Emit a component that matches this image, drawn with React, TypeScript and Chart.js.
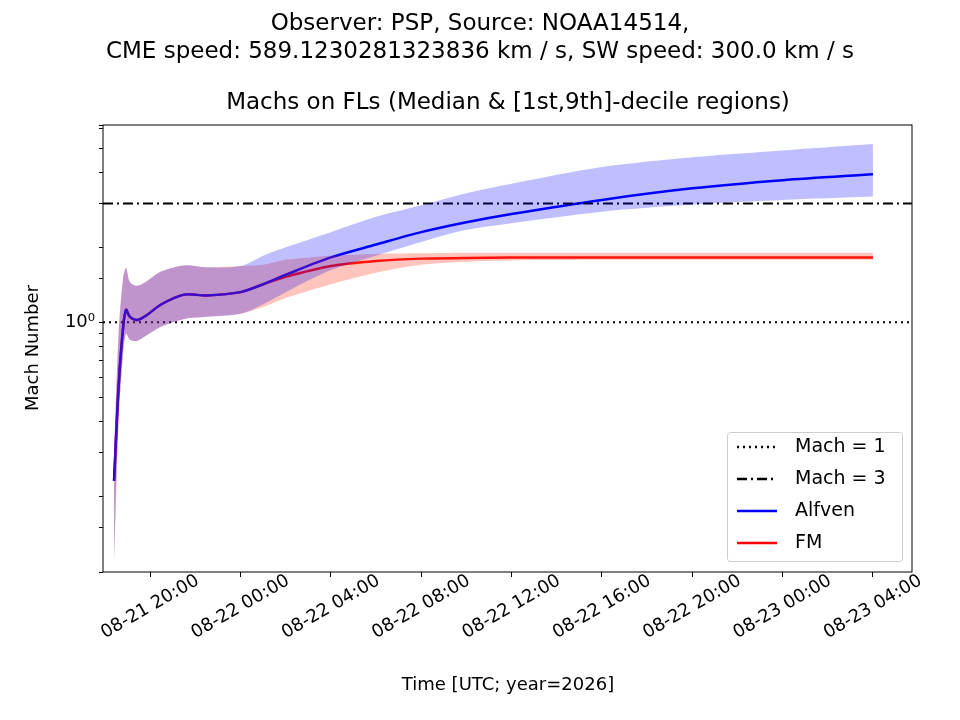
import React, { useEffect, useRef } from "react";
import { Chart, registerables } from "chart.js";
Chart.register(...registerables);

// hours since 2026-08-21 00:00 UTC
const hours = [18.4, 18.6, 18.8, 18.93, 19.1, 19.4, 19.8, 20.5, 21.5, 22.5, 24, 25, 26, 28, 30, 32, 34, 36, 40, 44, 48, 52];
const alfvenMedian = [0.23, 0.55, 0.95, 1.12, 1.05, 1.02, 1.06, 1.18, 1.29, 1.28, 1.32, 1.42, 1.55, 1.82, 2.05, 2.3, 2.52, 2.72, 3.1, 3.45, 3.72, 3.93];
const alfvenUpper = [0.3, 0.9, 1.5, 1.65, 1.45, 1.4, 1.45, 1.6, 1.69, 1.66, 1.68, 1.85, 2.0, 2.3, 2.65, 2.95, 3.3, 3.6, 4.2, 4.6, 4.9, 5.2];
const alfvenLower = [0.11, 0.4, 0.75, 0.9, 0.85, 0.84, 0.88, 0.96, 1.03, 1.05, 1.08, 1.18, 1.32, 1.62, 1.85, 2.1, 2.35, 2.5, 2.78, 2.97, 3.1, 3.2];
const fmMedian = [0.23, 0.55, 0.95, 1.12, 1.05, 1.02, 1.06, 1.18, 1.29, 1.28, 1.32, 1.42, 1.52, 1.68, 1.76, 1.8, 1.81, 1.82, 1.82, 1.82, 1.82, 1.82];
const fmUpper = [0.3, 0.9, 1.5, 1.65, 1.45, 1.4, 1.45, 1.6, 1.69, 1.66, 1.68, 1.7, 1.78, 1.85, 1.88, 1.89, 1.9, 1.9, 1.9, 1.9, 1.9, 1.9];
const fmLower = [0.11, 0.4, 0.75, 0.9, 0.85, 0.84, 0.88, 0.96, 1.03, 1.05, 1.08, 1.15, 1.25, 1.42, 1.58, 1.7, 1.75, 1.77, 1.78, 1.78, 1.78, 1.78];
const tickHours = [20, 24, 28, 32, 36, 40, 44, 48, 52];
const tickLabels = ["08-21 20:00", "08-22 00:00", "08-22 04:00", "08-22 08:00", "08-22 12:00", "08-22 16:00", "08-22 20:00", "08-23 00:00", "08-23 04:00"];
const xMin = 17.91, xMax = 53.73;
const titleLines = ["Observer: PSP, Source: NOAA14514,", "CME speed: 589.1230281323836 km / s, SW speed: 300.0 km / s"];
const subTitle = "Machs on FLs (Median & [1st,9th]-decile regions)";
const legendItems = [
  { label: "Mach = 1", color: "#000", dash: [2, 4] },
  { label: "Mach = 3", color: "#000", dash: [10, 4, 2, 4] },
  { label: "Alfven", color: "#0000ff", dash: [] as number[] },
  { label: "FM", color: "#ff0000", dash: [] as number[] },
];

const pts = (ys: number[]) => hours.map((h, i) => ({ x: h, y: ys[i] }));
const FONT = "'DejaVu Sans', sans-serif";

export default function App() {
  const ref = useRef<HTMLCanvasElement>(null);
  useEffect(() => {
    const textPlugin = {
      id: "texts",
      afterDraw(chart: any) {
        const ctx = chart.ctx;
        ctx.save();
        ctx.fillStyle = "#000";
        ctx.textAlign = "center";
        ctx.textBaseline = "middle";
        ctx.font = `23px ${FONT}`;
        ctx.fillText(titleLines[0], 480, 24);
        ctx.fillText(titleLines[1], 480, 52);
        ctx.fillText(subTitle, 508, 103);
        ctx.font = `18px ${FONT}`;
        ctx.fillText("Time [UTC; year=2026]", 508, 685);
        // x tick labels, rotated and centred under ticks
        const xs = chart.scales.x;
        tickHours.forEach((h, i) => {
          ctx.save();
          ctx.translate(xs.getPixelForValue(h), 607);
          ctx.rotate(-Math.PI / 6);
          ctx.fillText(tickLabels[i], 0, 0);
          ctx.restore();
        });
        ctx.save();
        ctx.translate(33, 348);
        ctx.rotate(-Math.PI / 2);
        ctx.fillText("Mach Number", 0, 0);
        ctx.restore();
        // legend
        ctx.fillStyle = "rgba(255,255,255,0.8)";
        ctx.strokeStyle = "#ccc";
        ctx.lineWidth = 1;
        ctx.beginPath();
        ctx.roundRect(727.5, 432.5, 175, 129, 3);
        ctx.fill();
        ctx.stroke();
        legendItems.forEach((it, i) => {
          const y = 447 + i * 32;
          ctx.strokeStyle = it.color;
          ctx.lineWidth = 2.5;
          ctx.setLineDash(it.dash);
          ctx.beginPath();
          ctx.moveTo(737, y);
          ctx.lineTo(777, y);
          ctx.stroke();
          ctx.setLineDash([]);
          ctx.fillStyle = "#000";
          ctx.textAlign = "left";
          ctx.font = `19px ${FONT}`;
          ctx.fillText(it.label, 795, y);
        });
        // frame
        const a = chart.chartArea;
        ctx.strokeStyle = "#000";
        ctx.lineWidth = 1;
        ctx.strokeRect(a.left, a.top, a.right - a.left, a.bottom - a.top);
        ctx.restore();
      },
    };
    const line = (data: any, color: string, extra: any = {}) => ({
      data, borderColor: color, borderWidth: 2.5, pointRadius: 0, fill: false, tension: 0.3, ...extra,
    });
    const chart = new Chart(ref.current!, {
      type: "line",
      data: {
        datasets: [
          line(pts(alfvenUpper), "transparent", { borderWidth: 0, fill: "+1", backgroundColor: "rgba(0,0,255,0.25)" }),
          line(pts(alfvenLower), "transparent", { borderWidth: 0 }),
          line(pts(fmUpper), "transparent", { borderWidth: 0, fill: "+1", backgroundColor: "rgba(255,60,30,0.3)" }),
          line(pts(fmLower), "transparent", { borderWidth: 0 }),
          line([{ x: xMin, y: 1 }, { x: xMax, y: 1 }], "#000", { borderWidth: 2, borderDash: [2, 4], tension: 0 }),
          line([{ x: xMin, y: 3 }, { x: xMax, y: 3 }], "#000", { borderWidth: 2, borderDash: [10, 4, 2, 4], tension: 0 }),
          line(pts(alfvenMedian), "#0000ff"),
          line(pts(fmMedian), "#ff0000"),
        ],
      },
      options: {
        animation: false,
        responsive: false,
        layout: { padding: { top: 125, right: 48, left: 0, bottom: 0 } },
        plugins: { legend: { display: false }, tooltip: { enabled: false } },
        scales: {
          x: {
            type: "linear", min: xMin, max: xMax,
            afterBuildTicks: (s: any) => { s.ticks = tickHours.map((v) => ({ value: v })); },
            afterFit: (s: any) => { s.height = 148; },
            grid: { drawOnChartArea: false, tickLength: 5, color: "#000" },
            border: { display: false },
            ticks: { maxRotation: 0, minRotation: 0, callback: () => "" },
          },
          y: {
            type: "logarithmic", min: 0.099, max: 6.2,
            afterFit: (s: any) => { s.width = 103; },
            grid: { drawOnChartArea: false, tickLength: 4, color: "#000" },
            border: { display: false },
            ticks: {
              color: "#000", font: { family: FONT, size: 18 }, autoSkip: false, padding: 4,
              callback: (v: any) => (Math.abs(v - 1) < 1e-9 ? "10⁰" : ""),
            },
          },
        },
      },
      plugins: [textPlugin],
    } as any);
    return () => chart.destroy();
  }, []);
  return (
    <div style={{ position: "absolute", left: 0, top: 0, width: 960, height: 720, background: "#fff" }}>
      <canvas ref={ref} width={960} height={720} style={{ width: 960, height: 720 }} />
    </div>
  );
}
